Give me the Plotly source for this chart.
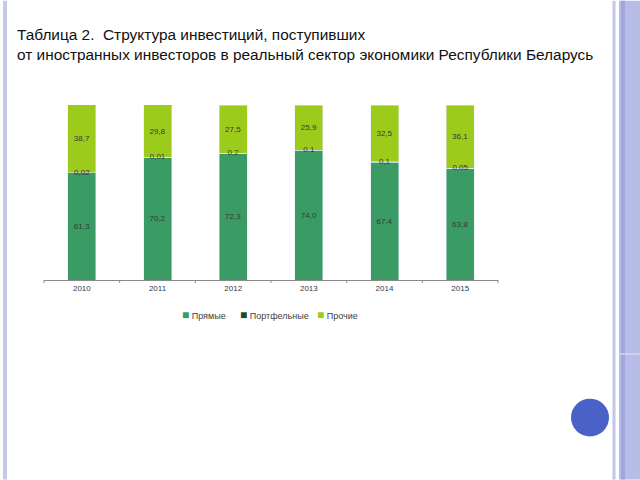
import plotly.graph_objects as go

years = ["2010", "2011", "2012", "2013", "2014", "2015"]
direct = [61.3, 70.2, 72.3, 74.0, 67.4, 63.8]
portfolio = [0.02, 0.01, 0.2, 0.1, 0.1, 0.05]
other = [38.7, 29.8, 27.5, 25.9, 32.5, 36.1]

direct_labels = ["61,3", "70,2", "72,3", "74,0", "67,4", "63,8"]
portfolio_labels = ["0,02", "0,01", "0,2", "0,1", "0,1", "0,05"]
other_labels = ["38,7", "29,8", "27,5", "25,9", "32,5", "36,1"]

series_names = ["Прямые", "Портфельные", "Прочие"]

W, H = 640, 480
L, R, T, B = 44, 498, 104.5, 280

GREEN = "#3b9b65"
DARK = "#1a4a1f"
LIME = "#9dcb1b"
COLORS = [GREEN, DARK, LIME]
FONT = "Liberation Sans, Arial"
LABEL_FONT = dict(family=FONT, size=8, color="#383838")


def px_x(px):
    return (px - L) / (R - L)


def px_y(py):
    return (B - py) / (B - T)


fig = go.Figure()
fig.add_trace(go.Bar(x=years, y=direct, name=series_names[0], marker_color=GREEN,
                     text=direct_labels, textposition="inside", insidetextanchor="middle",
                     textangle=0, textfont=LABEL_FONT, constraintext="none"))
fig.add_trace(go.Bar(x=years, y=portfolio, name=series_names[1], marker_color=DARK))
fig.add_trace(go.Bar(x=years, y=other, name=series_names[2], marker_color=LIME,
                     text=other_labels, textposition="inside", insidetextanchor="middle",
                     textangle=0, textfont=LABEL_FONT, constraintext="none"))

# portfolio share labels sit on the boundary between the two big segments
boundary = [d + p / 2 for d, p in zip(direct, portfolio)]
fig.add_trace(go.Scatter(x=years, y=boundary, mode="text", text=portfolio_labels,
                         textfont=LABEL_FONT, showlegend=False, hoverinfo="skip"))

shapes = []
# slide decoration: left rule
shapes.append(dict(type="rect", xref="paper", yref="paper", x0=px_x(3), x1=px_x(7),
                   y0=px_y(H), y1=px_y(0), fillcolor="#c6c9ea", line_width=0, layer="below"))
# right panel
shapes.append(dict(type="rect", xref="paper", yref="paper", x0=px_x(612.5), x1=px_x(615.5),
                   y0=px_y(H), y1=px_y(0), fillcolor="#c2c6e8", line_width=0, layer="below"))
shapes.append(dict(type="rect", xref="paper", yref="paper", x0=px_x(619), x1=px_x(W),
                   y0=px_y(H), y1=px_y(0), fillcolor="#b7bde6", line_width=0, layer="below"))
shapes.append(dict(type="rect", xref="paper", yref="paper", x0=px_x(621), x1=px_x(625),
                   y0=px_y(H), y1=px_y(0), fillcolor="#9ea7de", line_width=0, layer="below"))
shapes.append(dict(type="rect", xref="paper", yref="paper", x0=px_x(619), x1=px_x(W),
                   y0=px_y(355), y1=px_y(353.5), fillcolor="#d3d7f0", line_width=0, layer="below"))
# blue circle
shapes.append(dict(type="circle", xref="paper", yref="paper", x0=px_x(571), x1=px_x(609),
                   y0=px_y(437), y1=px_y(399), fillcolor="#4a62c8", line_width=0))
# category tick marks under the axis
for i in range(7):
    xp = L + i * (R - L) / 6
    shapes.append(dict(type="line", xref="paper", yref="paper", x0=px_x(xp), x1=px_x(xp),
                       y0=0, y1=px_y(B + 3), line=dict(color="#8a8a8a", width=1)))

annotations = [
    dict(text="Таблица 2.  Структура инвестиций, поступивших<br>"
              "от иностранных инвесторов в реальный сектор экономики Республики Беларусь",
         xref="paper", yref="paper", x=px_x(15), y=px_y(23), xanchor="left", yanchor="top",
         align="left", showarrow=False,
         font=dict(family=FONT, size=15.4, color="#111111")),
]

# compact legend under the axis: small coloured square right next to the name
legend_x = [180, 238, 315]
for name, color, xp in zip(series_names, COLORS, legend_x):
    annotations.append(dict(
        text=f"<span style='color:{color};font-size:12px'>■</span> {name}",
        xref="paper", yref="paper", x=px_x(xp), y=px_y(315), xanchor="left", yanchor="middle",
        showarrow=False, font=dict(family=FONT, size=9, color="#404040")))

fig.update_layout(
    width=W, height=H,
    margin=dict(l=L, r=W - R, t=T, b=H - B),
    paper_bgcolor="white", plot_bgcolor="white",
    barmode="stack", bargap=0.63,
    showlegend=False,
    xaxis=dict(showline=True, linecolor="#8a8a8a", linewidth=1, ticks="", showgrid=False,
               tickfont=dict(family=FONT, size=8, color="#383838")),
    yaxis=dict(range=[0, 100], visible=False, showgrid=False),
    shapes=shapes,
    annotations=annotations,
)

fig.write_html("out.html", config={"displayModeBar": False},
               post_script="document.body.style.margin = '0';")
